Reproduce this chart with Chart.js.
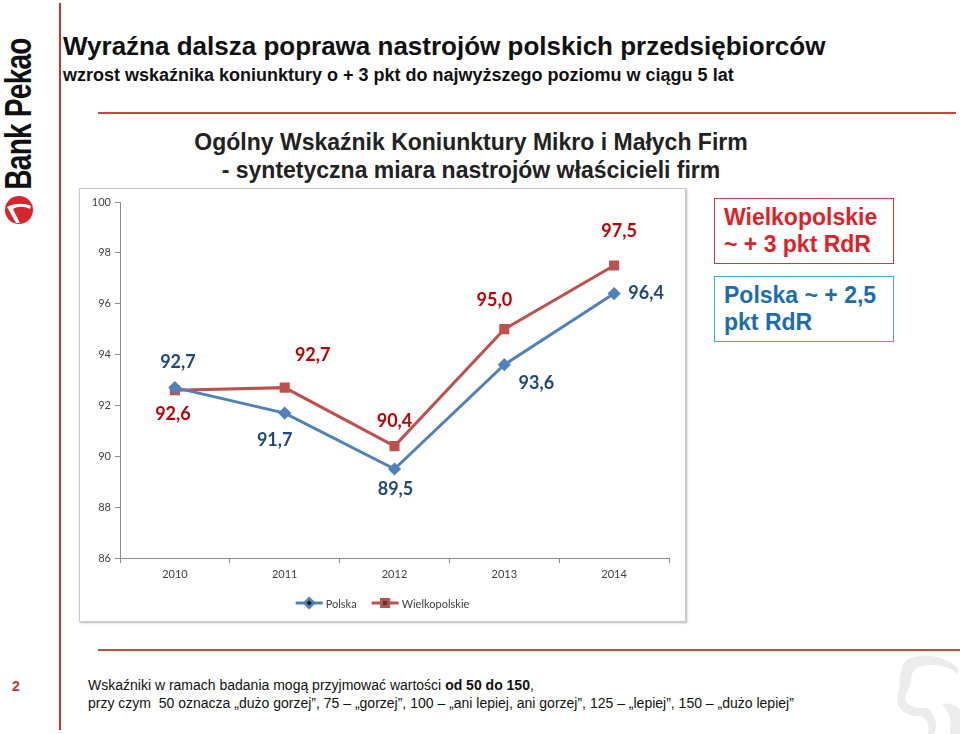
<!DOCTYPE html>
<html>
<head>
<meta charset="utf-8">
<script src="https://cdn.jsdelivr.net/npm/chart.js@4.4.1/dist/chart.umd.min.js"></script>
<style>
  body { margin: 0; width: 960px; height: 734px; position: relative; overflow: hidden; background: #fff;
         font-family: "Liberation Sans", Arial, sans-serif; }
  .abs { position: absolute; white-space: nowrap; }
  #vline { left: 59px; top: 3px; width: 2px; height: 727px; background: #c8312f; }
  #hline1 { left: 98px; top: 112px; width: 858px; height: 1.5px; background: #c8473f; }
  #hline2 { left: 98px; top: 649px; width: 862px; height: 2px; background: #c8473f; }
  #logo { left: 19px; top: 114px; transform: translate(-50%, -50%) rotate(-90deg) scaleX(0.78);
          font-weight: bold; font-size: 36px; color: #111; letter-spacing: -1px; }
  #t1 { left: 63px; top: 31px; font-size: 26px; font-weight: bold; color: #111; }
  #t2 { left: 63px; top: 65px; font-size: 18px; font-weight: bold; color: #111; }
  .sub { left: 0; width: 942px; text-align: center; font-size: 23px; font-weight: bold; color: #222; }
  #s1 { top: 129px; }
  #s2 { top: 157px; }
  .box { background: #fff; box-sizing: border-box; width: 180px; height: 66px; padding: 5px 0 0 9px;
         font-size: 23px; font-weight: bold; line-height: 27px; }
  #boxW { left: 714px; top: 198px; border: 1.5px solid #d8353a; color: #e01f26; }
  #boxP { left: 714px; top: 276px; border: 1.5px solid #47a3d9; color: #1c6cb4; }
  #frame { left: 79px; top: 188px; width: 605px; height: 432px; border: 1px solid #c9c9c9;
           box-shadow: 1px 1px 2px #b8b8b8; background: #fff; }
  #page { left: 12px; top: 678px; font-size: 14px; font-weight: bold; color: #c8312f; }
  .foot { left: 88px; font-size: 14px; color: #111; }
  #f1 { top: 677px; }
  #f2 { top: 695px; }
</style>
</head>
<body>
<div class="abs" id="vline"></div>
<div class="abs" id="hline1"></div>
<div class="abs" id="hline2"></div>
<div class="abs" id="logo">Bank Pekao</div>
<svg class="abs" style="left:3px;top:194px" width="32" height="32" viewBox="0 0 32 32">
  <circle cx="16" cy="16" r="14" fill="#d7262b"/>
  <path d="M4 13 C 12 9, 22 9, 28 12 L 27 15 C 21 12, 15 12, 10 15 L 17 29 L 13 29 Z" fill="#fff"/>
</svg>
<svg class="abs" style="left:888px;top:654px" width="72" height="80" viewBox="0 0 72 80">
  <path d="M18 6 C 34 -2, 58 2, 70 14 L 70 20 C 58 10, 40 8, 28 14 C 20 22, 26 30, 18 40 C 14 48, 24 56, 40 54
           C 48 62, 50 72, 46 80 L 40 80 C 42 70, 38 62, 30 62 C 16 62, 6 52, 10 40 C 14 30, 8 22, 18 6 Z" fill="#ececec"/>
  <path d="M54 50 C 62 48, 70 52, 72 56 L 72 80 L 62 80 C 64 68, 62 58, 54 50 Z" fill="#ececec"/>
</svg>

<div class="abs" id="t1">Wyraźna dalsza poprawa nastrojów polskich przedsiębiorców</div>
<div class="abs" id="t2">wzrost wskaźnika koniunktury o + 3 pkt do najwyższego poziomu w ciągu 5 lat</div>
<div class="abs sub" id="s1">Ogólny Wskaźnik Koniunktury Mikro i Małych Firm</div>
<div class="abs sub" id="s2">- syntetyczna miara nastrojów właścicieli firm</div>

<div class="abs" id="frame"><canvas id="chart" width="605" height="432"></canvas></div>

<div class="abs box" id="boxW">Wielkopolskie<br>~ + 3 pkt RdR</div>
<div class="abs box" id="boxP">Polska ~ + 2,5<br>pkt RdR</div>

<div class="abs" id="page">2</div>
<div class="abs foot" id="f1">Wskaźniki w ramach badania mogą przyjmować wartości <b>od 50 do 150</b>,</div>
<div class="abs foot" id="f2">przy czym&nbsp; 50 oznacza „dużo gorzej”, 75 – „gorzej”, 100 – „ani lepiej, ani gorzej”, 125 – „lepiej”, 150 – „dużo lepiej”</div>

<script>
// --- DATA ---
const years = ['2010', '2011', '2012', '2013', '2014'];
const polska = [92.7, 91.7, 89.5, 93.6, 96.4];
const wielkopolskie = [92.6, 92.7, 90.4, 95.0, 97.5];
const yTicks = [86, 88, 90, 92, 94, 96, 98, 100];

// label placement around each point (dx, dy in px)
const polskaLabelOffsets = [[3, -25], [-10, 27], [1, 20], [32, 18], [32, 0]];
const wielkLabelOffsets = [[-2, 24], [28, -32], [0, -25], [-10, -29], [5, -34]];

const fmt = v => v.toFixed(1).replace('.', ',');

// value labels next to the points
const valueLabels = {
    id: 'valueLabels',
    afterDatasetsDraw(chart) {
        const ctx = chart.ctx;
        ctx.save();
        ctx.font = 'bold 18px Lato';
        ctx.textAlign = 'center';
        ctx.textBaseline = 'middle';
        chart.data.datasets.forEach((ds, i) => {
            const meta = chart.getDatasetMeta(i);
            ctx.fillStyle = ds.labelColor;
            meta.data.forEach((pt, j) => {
                const off = ds.labelOffsets[j];
                ctx.fillText(fmt(ds.data[j]), pt.x + off[0], pt.y + off[1]);
            });
        });
        ctx.restore();
    }
};

// excel-like legend: line with marker, then name
const lineLegend = {
    id: 'lineLegend',
    afterDraw(chart) {
        const ctx = chart.ctx;
        const y = 414;
        const seg = 27, gap = 3, itemGap = 15;
        ctx.save();
        ctx.font = '11px Lato';
        ctx.textBaseline = 'middle';
        const items = chart.data.datasets.map(ds => ({ ds, w: seg + gap + ctx.measureText(ds.label).width }));
        const total = items.reduce((s, it) => s + it.w, 0) + itemGap * (items.length - 1);
        let x = chart.width / 2 - total / 2;
        items.forEach(it => {
            ctx.strokeStyle = it.ds.borderColor;
            ctx.lineWidth = 3;
            ctx.beginPath();
            ctx.moveTo(x, y);
            ctx.lineTo(x + seg, y);
            ctx.stroke();
            Chart.helpers.drawPoint(ctx, {
                pointStyle: it.ds.pointStyle, radius: it.ds.pointRadius, borderWidth: 1
            }, x + seg / 2, y);
            ctx.fillStyle = '#404040';
            ctx.fillText(it.ds.label, x + seg + gap, y + 1);
            x += it.w + itemGap;
        });
        ctx.restore();
    }
};

const ctx = document.getElementById('chart').getContext('2d');
new Chart(ctx, {
    type: 'line',
    data: {
        labels: years,
        datasets: [{
            label: 'Polska',
            data: polska,
            borderColor: '#4f81bd',
            backgroundColor: '#4f81bd',
            pointBackgroundColor: '#4f81bd',
            pointBorderColor: '#4f81bd',
            pointStyle: 'rectRot',
            pointRadius: 4.5,
            borderWidth: 3,
            tension: 0,
            labelColor: '#1f497d',
            labelOffsets: polskaLabelOffsets
        }, {
            label: 'Wielkopolskie',
            data: wielkopolskie,
            borderColor: '#c0504d',
            backgroundColor: '#c0504d',
            pointBackgroundColor: '#c0504d',
            pointBorderColor: '#c0504d',
            pointStyle: 'rect',
            pointRadius: 5,
            borderWidth: 3,
            tension: 0,
            labelColor: '#c00000',
            labelOffsets: wielkLabelOffsets
        }]
    },
    options: {
        responsive: false,
        animation: false,
        layout: { padding: { left: 0, right: 16, top: 13, bottom: 0 } },
        plugins: { legend: { display: false }, tooltip: { enabled: false } },
        scales: {
            x: {
                offset: true,
                grid: { display: true, drawOnChartArea: false, offset: true, color: '#8c8c8c', tickLength: 5 },
                border: { color: '#8c8c8c' },
                ticks: { color: '#404040', font: { family: 'Lato', size: 11 }, padding: 5 },
                afterFit(scale) { scale.height = 63; }
            },
            y: {
                min: 86,
                max: 100,
                afterBuildTicks(scale) { scale.ticks = yTicks.map(v => ({ value: v })); },
                grid: { display: true, drawOnChartArea: false, color: '#8c8c8c', tickLength: 5 },
                border: { color: '#8c8c8c' },
                ticks: { color: '#404040', font: { family: 'Lato', size: 11 }, padding: 4 },
                afterFit(scale) { scale.width = 40; }
            }
        }
    },
    plugins: [valueLabels, lineLegend]
});
</script>
</body>
</html>
